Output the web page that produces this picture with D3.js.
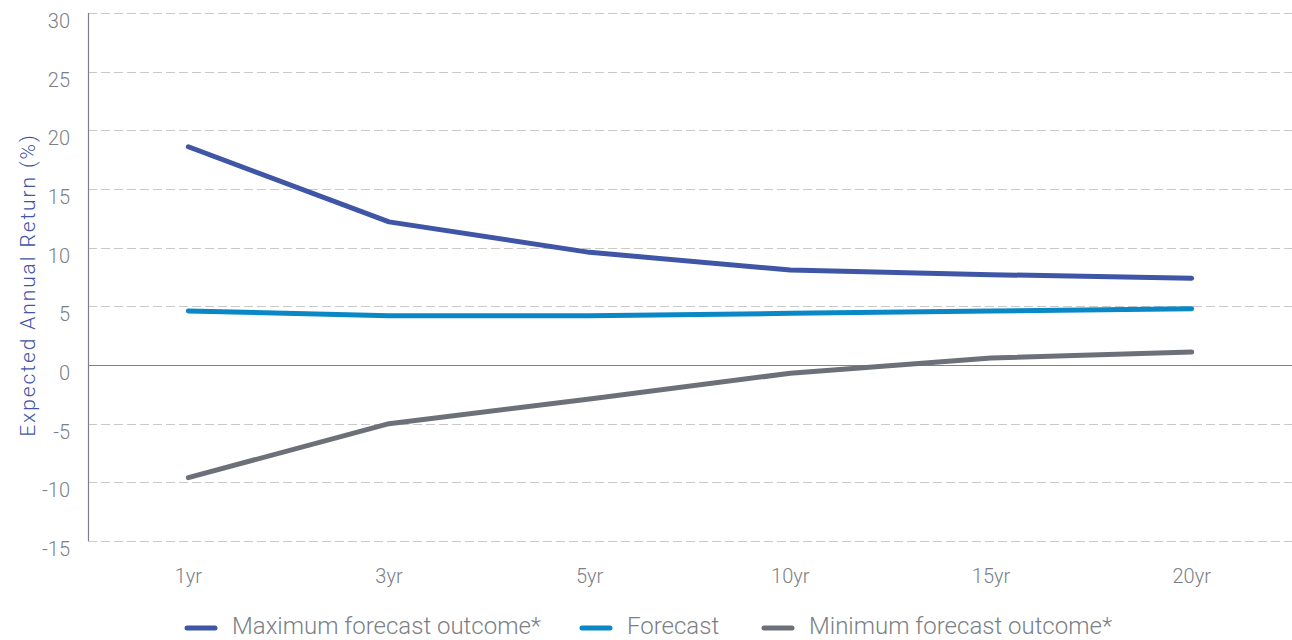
<!DOCTYPE html>
<html>
<head>
<meta charset="utf-8">
<script src="https://cdn.jsdelivr.net/npm/d3@7"></script>
<style>
  html, body { margin: 0; padding: 0; background: #fff; }
  svg { display: block; font-family: Roboto, "Liberation Sans", sans-serif; font-weight: 300; }
</style>
</head>
<body>
<svg id="chart" width="1292" height="640"></svg>
<script>
// Horizons and expected annual returns (%)
const horizons = ["1yr", "3yr", "5yr", "10yr", "15yr", "20yr"];
const maxOutcome = [18.6, 12.2, 9.6, 8.1, 7.7, 7.4];
const forecast = [4.6, 4.2, 4.2, 4.4, 4.6, 4.8];
const minOutcome = [-9.6, -5.0, -2.9, -0.7, 0.6, 1.1];
const yTicks = [30, 25, 20, 15, 10, 5, 0, -5, -10, -15];
const seriesNames = ["Maximum forecast outcome*", "Forecast", "Minimum forecast outcome*"];

const series = [
  { name: seriesNames[0], values: maxOutcome, color: "#3f55a6" },
  { name: seriesNames[1], values: forecast, color: "#0a88c6" },
  { name: seriesNames[2], values: minOutcome, color: "#6c7179" }
];

const svg = d3.select("#chart");
const margin = { left: 88, right: 0, top: 13, bottom: 99 };
const W = 1292, H = 640;

const x = d3.scaleBand()
  .domain(horizons)
  .range([margin.left, W - margin.right]);

const y = d3.scaleLinear()
  .domain([-15, 30])
  .range([H - margin.bottom, margin.top]);

const textColor = "#7b7f86";

// Dashed gridlines
svg.append("g")
  .selectAll("line")
  .data(yTicks.filter(d => d !== 0))
  .join("line")
  .attr("x1", margin.left)
  .attr("x2", W)
  .attr("y1", d => Math.round(y(d)) + 0.5)
  .attr("y2", d => Math.round(y(d)) + 0.5)
  .attr("stroke", "#c9c9c9")
  .attr("stroke-width", 1.2)
  .attr("stroke-dasharray", "9,4");

// Zero line
svg.append("line")
  .attr("x1", margin.left).attr("x2", W)
  .attr("y1", Math.round(y(0)) + 0.5).attr("y2", Math.round(y(0)) + 0.5)
  .attr("stroke", "#7d8187").attr("stroke-width", 1.2);

// Y axis line
svg.append("line")
  .attr("x1", margin.left + 0.5).attr("x2", margin.left + 0.5)
  .attr("y1", y(30)).attr("y2", y(-15))
  .attr("stroke", "#7d8187").attr("stroke-width", 1.2);

// Y tick labels, hung just below each gridline
svg.append("g")
  .selectAll("text")
  .data(yTicks)
  .join("text")
  .attr("x", 70)
  .attr("y", d => y(d) + 15)
  .attr("text-anchor", "end")
  .attr("font-size", 20)
  .attr("fill", textColor)
  .text(d => d);

// X labels
svg.append("g")
  .selectAll("text")
  .data(horizons)
  .join("text")
  .attr("x", d => x(d) + x.bandwidth() / 2)
  .attr("y", 583)
  .attr("text-anchor", "middle")
  .attr("font-size", 20)
  .attr("fill", textColor)
  .text(d => d);

// Y axis title
svg.append("text")
  .attr("transform", `translate(35, ${(y(30) + y(-15)) / 2 + 8}) rotate(-90)`)
  .attr("text-anchor", "middle")
  .attr("font-size", 21)
  .attr("letter-spacing", 1.9)
  .attr("fill", "#3f55a6")
  .text("Expected Annual Return (%)");

// Series lines
const line = d3.line()
  .x((d, i) => x(horizons[i]) + x.bandwidth() / 2)
  .y(d => y(d));

svg.append("g")
  .selectAll("path")
  .data(series)
  .join("path")
  .attr("d", d => line(d.values))
  .attr("fill", "none")
  .attr("stroke", d => d.color)
  .attr("stroke-width", 5)
  .attr("stroke-linecap", "round")
  .attr("stroke-linejoin", "round");

// Legend
const legendX = [185, 580, 762];
const legend = svg.append("g")
  .selectAll("g")
  .data(series)
  .join("g")
  .attr("transform", (d, i) => `translate(${legendX[i]}, 628)`);

legend.append("line")
  .attr("x1", 2).attr("x2", 30)
  .attr("y1", 0).attr("y2", 0)
  .attr("stroke", d => d.color)
  .attr("stroke-width", 5)
  .attr("stroke-linecap", "round");

legend.append("text")
  .attr("x", 47)
  .attr("y", 6)
  .attr("font-size", 24)
  .attr("fill", textColor)
  .text(d => d.name);
</script>
</body>
</html>
